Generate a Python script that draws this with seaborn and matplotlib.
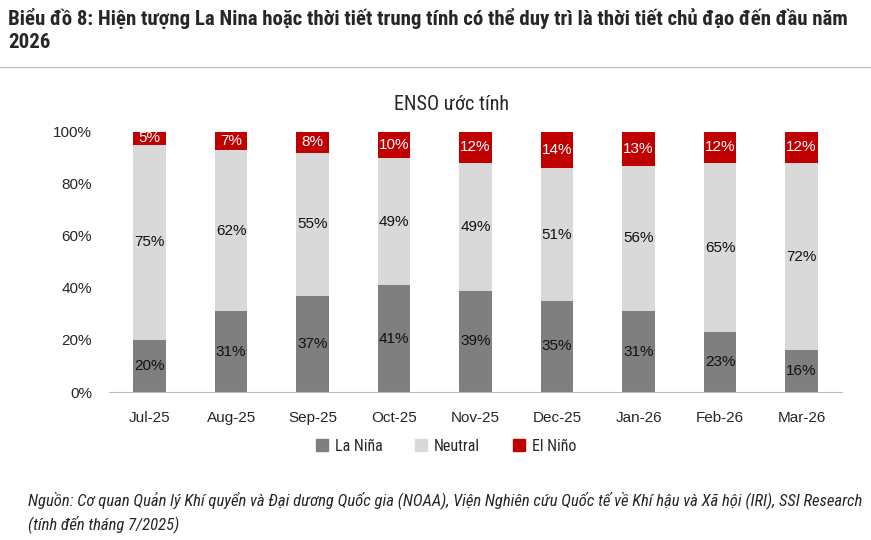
import numpy as np
import pandas as pd
import matplotlib
matplotlib.use("Agg")
import matplotlib.pyplot as plt
from matplotlib.lines import Line2D
import seaborn as sns

# ===================== DATA =====================
months = ["Jul-25", "Aug-25", "Sep-25", "Oct-25", "Nov-25", "Dec-25", "Jan-26", "Feb-26", "Mar-26"]
la_nina = [20, 31, 37, 41, 39, 35, 31, 23, 16]
neutral = [75, 62, 55, 49, 49, 51, 56, 65, 72]
el_nino = [5, 7, 8, 10, 12, 14, 13, 12, 12]

TITLE = "Biểu đồ 8: Hiện tượng La Nina hoặc thời tiết trung tính có thể duy trì là thời tiết chủ đạo đến đầu năm\n2026"
CHART_TITLE = "ENSO ước tính"
SOURCE = ("Nguồn: Cơ quan Quản lý Khí quyển và Đại dương Quốc gia (NOAA), Viện Nghiên cứu Quốc tế về Khí hậu và Xã hội (IRI), SSI Research\n"
          "(tính đến tháng 7/2025)")

C_LA = "#7f7f7f"
C_NEU = "#d9d9d9"
C_EL = "#c00000"

NARROW = ["Roboto Condensed", "Archivo Narrow", "DejaVu Sans"]

sns.set_style("white")
plt.rcParams["font.family"] = ["Liberation Sans", "DejaVu Sans"]

df = pd.DataFrame({"month": months, "la": la_nina, "neu": neutral, "el": el_nino})
df["top_neu"] = df["la"] + df["neu"]
df["top_el"] = df["top_neu"] + df["el"]

fig = plt.figure(figsize=(8.71, 5.4), dpi=100)
ax = fig.add_axes([0.125, 0.274, 0.842, 0.482])

# stacked bars drawn as overlapping cumulative layers
sns.barplot(data=df, x="month", y="top_el", color=C_EL, width=0.4, saturation=1, ax=ax, linewidth=0)
sns.barplot(data=df, x="month", y="top_neu", color=C_NEU, width=0.4, saturation=1, ax=ax, linewidth=0)
sns.barplot(data=df, x="month", y="la", color=C_LA, width=0.4, saturation=1, ax=ax, linewidth=0)

for i, row in df.iterrows():
    ax.text(i, row["la"] / 2, f"{row['la']}%", ha="center", va="center", fontsize=11, color="#111111")
    ax.text(i, row["la"] + row["neu"] / 2, f"{row['neu']}%", ha="center", va="center", fontsize=11, color="#111111")
    ax.text(i, row["top_neu"] + row["el"] / 2, f"{row['el']}%", ha="center", va="center", fontsize=11, color="white")

ax.set_xlim(-0.5, len(months) - 0.5)
ax.set_ylim(0, 100)
ax.set_yticks([0, 20, 40, 60, 80, 100])
ax.set_yticklabels([f"{v}%" for v in [0, 20, 40, 60, 80, 100]])
ax.set_xlabel("")
ax.set_ylabel("")
ax.tick_params(axis="y", length=0, pad=12, labelsize=11)
ax.tick_params(axis="x", which="major", length=0, pad=14, labelsize=11)
ax.set_xticks(np.arange(-0.5, len(months), 1), minor=True)
ax.tick_params(axis="x", which="minor", length=5, color="#bfbfbf", width=1)
for s in ["top", "right", "left"]:
    ax.spines[s].set_visible(False)
ax.spines["bottom"].set_color("#bfbfbf")

ax.set_title(CHART_TITLE, fontsize=14.5, pad=16, family=NARROW, x=0.467)

handles = [
    Line2D([], [], marker="s", linestyle="", markersize=8, color=C_LA, label="La Niña"),
    Line2D([], [], marker="s", linestyle="", markersize=8, color=C_NEU, label="Neutral"),
    Line2D([], [], marker="s", linestyle="", markersize=8, color=C_EL, label="El Niño"),
]
fig.legend(handles=handles, loc="center", bbox_to_anchor=(0.512, 0.174), ncol=3, frameon=False,
           prop={"family": NARROW, "size": 11.5}, handlelength=0.8, handletextpad=0.4, columnspacing=2.05)

fig.text(0.009, 0.985, TITLE, fontsize=15, fontweight="bold", va="top", ha="left", linespacing=1.25, family=NARROW)
fig.add_artist(Line2D([0, 1], [0.876, 0.876], transform=fig.transFigure, color="#bfbfbf", linewidth=1))
fig.text(0.032, 0.09, SOURCE, fontsize=12, style="italic", va="top", ha="left", linespacing=1.4, family=NARROW)

fig.savefig("out.png", dpi=100)
